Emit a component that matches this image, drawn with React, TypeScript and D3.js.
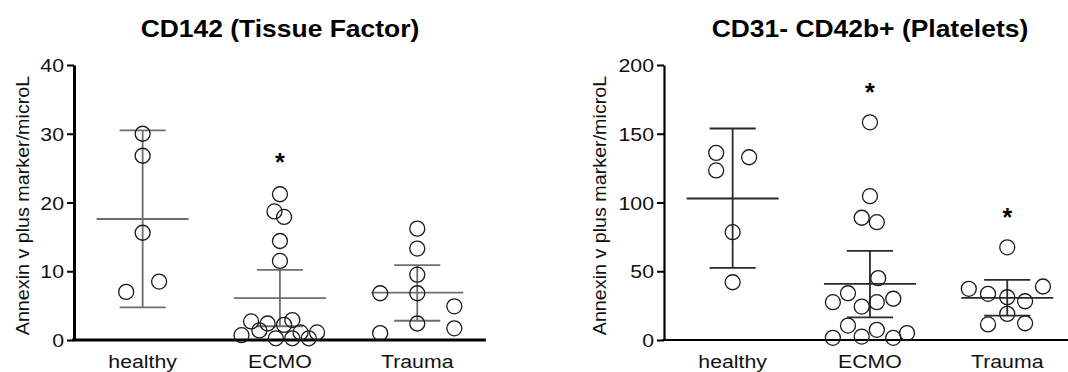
import React, { useEffect, useRef } from "react";
import * as d3 from "d3";

const groups = ["healthy", "ECMO", "Trauma"];
const yLabel = "Annexin v plus marker/microL";

// CD142 (Tissue Factor)
const tfTitle = "CD142 (Tissue Factor)";
const tfTicks = [0, 10, 20, 30, 40];
const tfHealthy = [30.0, 26.8, 15.6, 7.0, 8.5];
const tfEcmo = [21.2, 18.7, 17.9, 14.4, 11.5, 2.7, 2.4, 2.9, 2.2, 1.4, 1.1, 1.1, 0.7, 0.25, 0.25, 0.25];
const tfTrauma = [16.2, 13.3, 9.5, 6.8, 6.8, 4.9, 2.4, 1.7, 1.0];
// horizontal spread of the dots, as a fraction of the category width
const tfHealthySpread = [0, 0, 0, -0.12, 0.12];
const tfEcmoSpread = [0, -0.04, 0.03, 0, 0, -0.21, -0.09, 0.09, 0.03, -0.15, 0.15, 0.27, -0.28, -0.03, 0.09, 0.21];
const tfTraumaSpread = [0, 0, 0, -0.27, 0, 0.27, 0, 0.27, -0.27];
const tfMean = [17.6, 6.1, 6.9];
const tfUpper = [30.5, 10.2, 10.9];
const tfLower = [4.75, 2.0, 2.8];
const tfStars = [null, 26.6, null];

// CD31- CD42b+ (Platelets)
const plTitle = "CD31- CD42b+ (Platelets)";
const plTicks = [0, 50, 100, 150, 200];
const plHealthy = [136.1, 123.3, 132.9, 78.4, 42.0];
const plEcmo = [158.3, 104.6, 88.9, 85.7, 45.0, 34.0, 27.5, 24.3, 27.5, 30.0, 10.5, 1.6, 2.5, 7.4, 1.6, 5.0];
const plTrauma = [67.4, 37.2, 33.6, 31.1, 28.2, 38.9, 19.0, 11.3, 12.2];
const plHealthySpread = [-0.12, -0.12, 0.12, 0, 0];
const plEcmoSpread = [0, 0, -0.06, 0.05, 0.06, -0.16, -0.27, -0.06, 0.05, 0.17, -0.16, -0.27, -0.06, 0.05, 0.17, 0.27];
const plTraumaSpread = [0, -0.28, -0.14, 0, 0.13, 0.26, 0, -0.14, 0.13];
const plMean = [102.9, 40.8, 30.7];
const plUpper = [153.8, 64.8, 43.8];
const plLower = [52.5, 16.4, 17.8];
const plStars = [null, 183.7, 93];

const FONT = "Liberation Sans, Arial, Helvetica, sans-serif";
const SX = 1.15; // the original's text is a bit wide

function Panel({
  title, values, spread, mean, upper, lower, stars, ticks,
  left, yLabelX, axisWidth, barColor,
  top = 65, bottom = 340, step = 137.3,
}) {
  const ref = useRef(null);

  useEffect(() => {
    const g = d3.select(ref.current);
    g.selectAll("*").remove();

    const x = d3.scaleBand(groups, [left, left + step * groups.length]);
    const y = d3.scaleLinear([ticks[0], ticks[ticks.length - 1]], [bottom, top]);
    const cx = (i) => x(groups[i]) + x.bandwidth() / 2;

    const stretched = (sel, px, py) =>
      sel.attr("transform", `translate(${px},${py}) scale(${SX},1)`);

    // title
    stretched(g.append("text"), cx(1), 37)
      .attr("text-anchor", "middle")
      .attr("font-family", FONT)
      .attr("font-weight", "bold")
      .attr("font-size", 23)
      .text(title);

    // y label
    g.append("text")
      .attr("transform", `translate(${yLabelX},${(top + bottom) / 2 + 3}) rotate(-90) scale(1.12,1)`)
      .attr("text-anchor", "middle")
      .attr("font-family", FONT)
      .attr("font-size", 17.6)
      .attr("fill", "#111")
      .text(yLabel);

    // y axis
    const gy = g.append("g").attr("transform", `translate(${left},0)`);
    gy.call(d3.axisLeft(y).tickValues(ticks).tickSize(7).tickPadding(4).tickSizeOuter(0));
    gy.select(".domain").attr("stroke", "#000").attr("stroke-width", axisWidth);
    gy.selectAll(".tick line").attr("stroke", "#000").attr("stroke-width", 2);
    gy.selectAll(".tick text")
      .attr("font-family", FONT)
      .attr("font-size", 18.5)
      .attr("fill", "#111")
      .attr("x", -10 / SX)
      .attr("dy", "0.36em")
      .attr("transform", `scale(${SX},1)`);

    // x axis
    g.append("line")
      .attr("x1", left - 2).attr("x2", left + step * groups.length)
      .attr("y1", y(0)).attr("y2", y(0))
      .attr("stroke", "#000").attr("stroke-width", axisWidth);
    groups.forEach((name, i) => {
      stretched(g.append("text"), cx(i), 368)
        .attr("text-anchor", "middle")
        .attr("font-family", FONT)
        .attr("font-size", 18.5)
        .attr("fill", "#111")
        .text(name);
    });

    // mean and SD bars
    const bw = x.bandwidth();
    groups.forEach((_, i) => {
      const c = cx(i);
      const bar = g.append("g").attr("stroke", barColor).attr("stroke-width", 1.8);
      bar.append("line").attr("x1", c).attr("x2", c).attr("y1", y(upper[i])).attr("y2", y(lower[i]));
      bar.append("line").attr("x1", c - bw * 0.168).attr("x2", c + bw * 0.168).attr("y1", y(upper[i])).attr("y2", y(upper[i]));
      bar.append("line").attr("x1", c - bw * 0.168).attr("x2", c + bw * 0.168).attr("y1", y(lower[i])).attr("y2", y(lower[i]));
      bar.append("line").attr("x1", c - bw * 0.335).attr("x2", c + bw * 0.335).attr("y1", y(mean[i])).attr("y2", y(mean[i]));
    });

    // dots
    groups.forEach((_, i) => {
      g.append("g")
        .selectAll("circle")
        .data(values[i])
        .join("circle")
        .attr("cx", (d, j) => cx(i) + spread[i][j] * bw)
        .attr("cy", (d) => y(d))
        .attr("r", 7.5)
        .attr("fill", "none")
        .attr("stroke", "#1a1a1a")
        .attr("stroke-width", 1.3);
    });

    // significance stars
    stars.forEach((s, i) => {
      if (s == null) return;
      g.append("text")
        .attr("x", cx(i))
        .attr("y", y(s) + 14)
        .attr("text-anchor", "middle")
        .attr("font-family", FONT)
        .attr("font-weight", "bold")
        .attr("font-size", 25)
        .text("*");
    });
  }, []);

  return <g ref={ref} />;
}

export default function App() {
  return (
    <svg width={1068} height={372} style={{ position: "absolute", left: 0, top: 0, background: "#fff" }}>
      <rect width={1068} height={372} fill="#fff" />
      <Panel
        title={tfTitle}
        values={[tfHealthy, tfEcmo, tfTrauma]}
        spread={[tfHealthySpread, tfEcmoSpread, tfTraumaSpread]}
        mean={tfMean}
        upper={tfUpper}
        lower={tfLower}
        stars={tfStars}
        ticks={tfTicks}
        left={74}
        yLabelX={29}
        axisWidth={3}
        barColor="#6e6e6e"
      />
      <Panel
        title={plTitle}
        values={[plHealthy, plEcmo, plTrauma]}
        spread={[plHealthySpread, plEcmoSpread, plTraumaSpread]}
        mean={plMean}
        upper={plUpper}
        lower={plLower}
        stars={plStars}
        ticks={plTicks}
        left={664}
        yLabelX={606}
        axisWidth={2.2}
        barColor="#2a2a2a"
      />
    </svg>
  );
}
